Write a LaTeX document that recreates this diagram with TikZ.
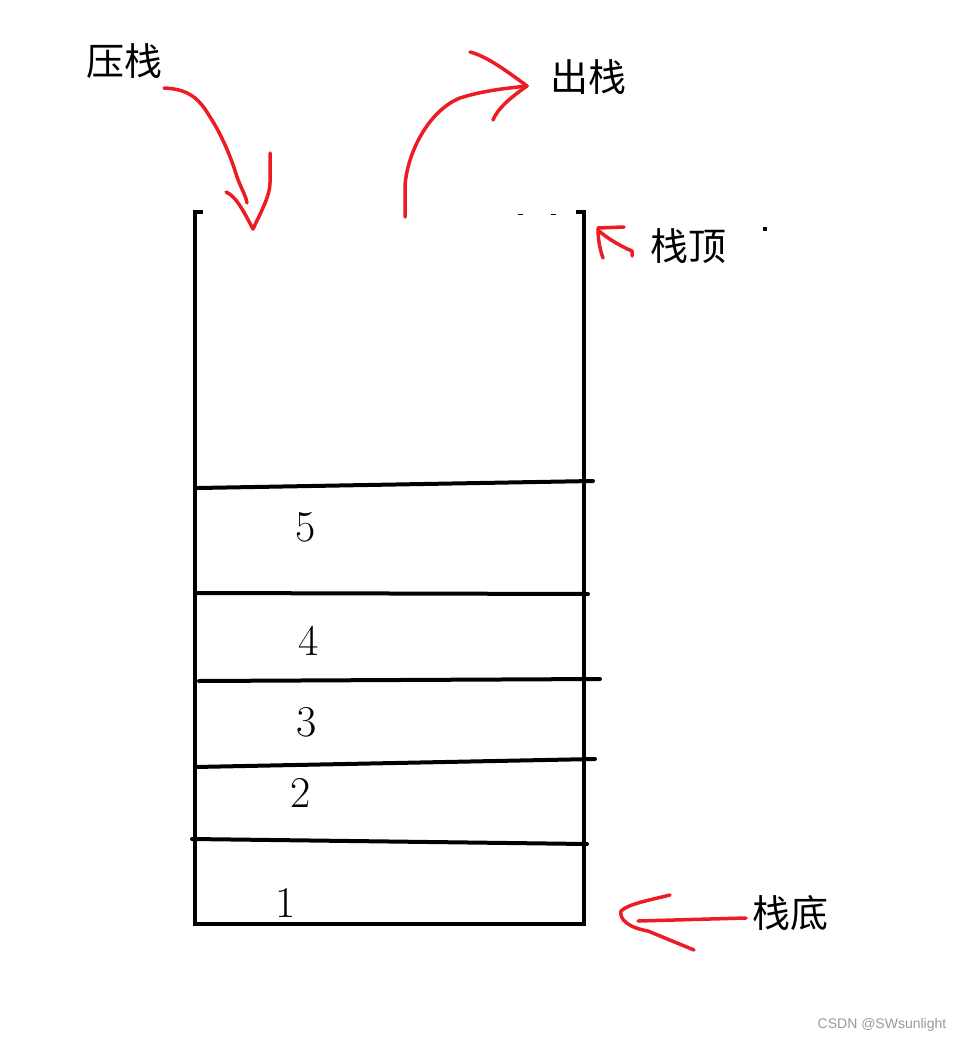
\documentclass[tikz,border=0pt]{standalone}
\usepackage{fontspec}
\newfontfamily\cjk{Noto Sans CJK SC}
\newfontfamily\wmfont{Liberation Sans}
\definecolor{pen}{HTML}{ED1C24}
\definecolor{wmgray}{HTML}{9A9A9A}
\begin{document}
\begin{tikzpicture}[x=1pt,y=-1pt,
  wall/.style={line width=4.5pt,line cap=rect},
  layer/.style={line width=4pt,line cap=round},
  redpen/.style={draw=pen,line width=3.5pt,line cap=round,line join=round},
  cjklabel/.style={inner sep=0pt,font=\cjk\fontsize{38}{38}\selectfont},
  num/.style={inner sep=0pt,font=\fontsize{44}{44}\selectfont}]
\useasboundingbox[fill=white] (0,0) rectangle (967,1043);
% stack walls
\draw[wall] (201,212) -- (195,212) -- (195,924) -- (584,924) -- (584,212) -- (578,212);
\draw[line width=1pt] (518,214) -- (523,214) (551,214) -- (556,214);
\fill (763,227) rectangle (767,231);
% layer lines
\draw[layer] (198,488) -- (593,481);
\draw[layer] (196,593) -- (588,594);
\draw[layer] (199,681) -- (600,679);
\draw[layer] (195,767) -- (595,759);
\draw[layer] (192,839) -- (587,844);
% numbers
\node[num] (n5) at (306,527) {5};
\node[num] (n4) at (309,641) {4};
\node[num] (n3) at (307,722) {3};
\node[num] (n2) at (301,793) {2};
\node[num] (n1) at (286,903) {1};
% labels
\node[cjklabel] (push) at (124,61) {压栈};
\node[cjklabel] (pop) at (588,77) {出栈};
\node[cjklabel] (top) at (688,246) {栈顶};
\node[cjklabel] (bottom) at (790,913) {栈底};
% push arrow
\draw[redpen] (164,88) .. controls (190,89) and (200,100) .. (210,117)
  .. controls (222,135) and (232,160) .. (237,177) .. controls (241,188) and (246,196) .. (247,203);
\draw[redpen] (226,192) .. controls (236,196) and (244,212) .. (253,229)
  .. controls (262,210) and (270,195) .. (270,183) -- (270,153);
% pop arrow
\draw[redpen] (405,217) -- (405,185) .. controls (408,150) and (430,110) .. (460,98)
  .. controls (485,90) and (510,88) .. (527,86);
\draw[redpen] (470,52) .. controls (485,56) and (500,66) .. (527,86)
  .. controls (510,98) and (498,108) .. (493,120);
% top arrow
\draw[redpen] (624,227) -- (598,228) .. controls (598,240) and (600,250) .. (603,258);
\draw[redpen] (599,231) .. controls (607,238) and (620,246) .. (632,251) -- (632,256);
% bottom arrow
\draw[redpen] (670,895) .. controls (650,900) and (628,904) .. (621,911)
  .. controls (619,920) and (630,928) .. (648,931) -- (694,950);
\draw[redpen] (638,921) -- (746,918);
% watermark
\node[inner sep=0pt,text=wmgray,font=\wmfont\fontsize{14}{14}\selectfont] (wm) at (882,1025) {CSDN @SWsunlight};
\end{tikzpicture}
\end{document}
